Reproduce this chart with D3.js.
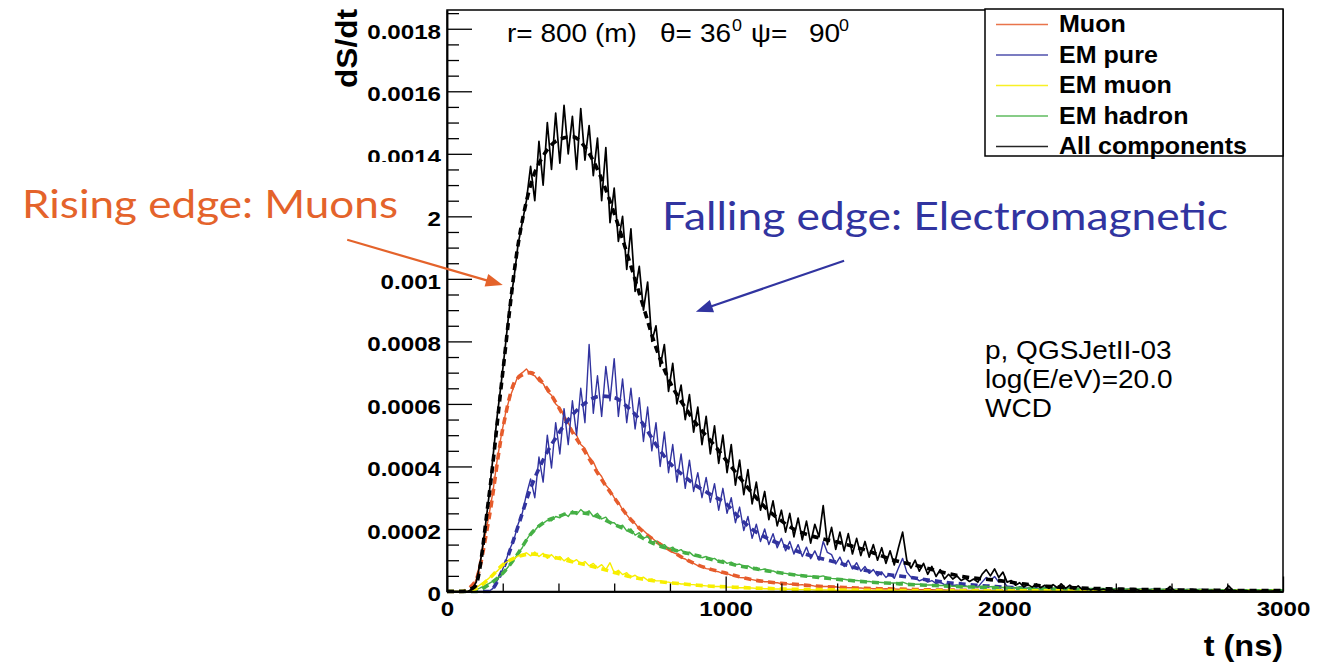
<!DOCTYPE html>
<html>
<head>
<meta charset="utf-8">
<script src="https://cdn.jsdelivr.net/npm/d3@7"></script>
<style>
  html, body { margin: 0; padding: 0; background: #fff; }
  svg { display: block; }
</style>
</head>
<body>
<svg id="chart" width="1337" height="663"></svg>
<script>
// dS/dt values are stored in units of 1e-6 per ns.
const UNIT = 1e-6;

// Simulated trace histograms: 15 ns bins starting at t = 0.
const BIN_NS = 15;
const muonTrace = [
  0,0,0,0,0,0,5,40,100,170,
  240,320,420,500,570,620,655,690,700,712,
  695,690,672,665,640,628,600,588,560,540,
  512,500,470,458,430,415,385,368,340,325,
  300,285,262,245,228,218,200,195,182,172,
  160,155,142,137,125,120,108,104,94,90,
  83,80,73,71,65,63,58,57,52,50,
  45,44,40,38,35,34,31,31,28,28,
  25,26,23,24,21,22,19,20,17,18,
  16,16,14,15,13,13,12,12,11,11,
  10,10,9,9,8,9,8,8,7,8,
  7,6,7,6,6,5,6,5,5,5,
  4,4,4,3,4,3,3,3,3,3,
  3,3,3,2,3,2,2,2,2,2,
  2,2,2,2,2,2,2,1,2,1,
  1,2,1,1,1,1,1,1,1,1,
  1,1,1,1,1,1,1,1,1,1,
  1,1,1,1,1,1,1,1,1,1,
  1,1,1,1,1,1,1,1,1,1,
  1,1,1,1,1,1,1,1,1,1
];
const emPureTrace = [
  0,0,0,0,0,0,0,0,0,0,
  0,10,35,60,95,135,165,215,250,310,
  360,300,430,350,500,395,540,440,585,470,
  610,500,650,540,790,570,690,560,720,610,
  745,560,680,540,650,520,620,480,590,450,
  540,400,510,380,470,350,440,330,420,320,
  380,300,365,285,345,260,330,250,300,220,
  270,195,240,170,215,160,200,150,185,140,
  170,130,160,120,150,112,142,105,130,100,
  160,125,118,88,110,80,100,72,92,65,
  80,58,70,50,62,45,55,42,75,106,
  62,46,45,34,40,30,35,25,30,22,
  24,19,21,17,18,15,16,14,30,45,
  35,48,30,35,16,14,12,13,10,11,
  9,10,8,9,7,8,6,7,6,6,
  5,6,5,5,4,5,4,4,4,3,
  4,3,3,4,3,3,2,3,3,2,
  3,2,2,3,2,2,2,3,2,2,
  2,2,1,2,2,2,1,2,2,1,
  2,1,1,2,1,1,1,1,1,1
];
const emMuonTrace = [
  0,0,0,0,0,0,3,12,22,32,
  42,55,65,80,92,100,104,114,116,124,
  114,126,112,122,106,118,104,112,98,108,
  94,102,88,96,82,90,76,86,70,92,
  60,68,54,60,46,52,42,46,36,40,
  34,34,30,30,27,27,24,24,22,22,
  20,19,18,17,16,16,15,14,14,13,
  12,12,11,11,10,10,9,9,8,8,
  8,7,7,7,6,6,6,6,5,5,
  5,5,5,4,4,4,4,4,4,3,
  3,3,3,3,3,3,3,3,3,3,
  2,2,2,2,2,2,2,2,2,2,
  2,2,2,2,2,2,2,2,2,2,
  2,2,1,2,1,2,1,1,2,1,
  1,1,1,1,1,1,1,1,1,1,
  1,1,1,1,1,1,1,1,1,1,
  1,1,1,1,1,1,1,1,1,1,
  1,1,1,1,1,1,1,1,1,1,
  1,1,1,1,1,1,1,1,1,1,
  1,1,1,1,1,1,1,1,1,1
];
const emHadronTrace = [
  0,0,0,0,0,0,0,5,12,18,
  25,33,42,52,68,85,100,122,140,165,
  185,195,212,218,228,226,240,236,250,240,
  258,246,262,250,258,240,250,232,238,220,
  220,206,212,194,200,180,188,170,176,158,
  162,146,150,136,142,128,134,120,126,114,
  118,108,112,102,106,96,100,90,94,85,
  88,80,82,74,77,69,72,65,66,60,
  59,58,55,55,52,52,49,49,46,47,
  50,44,42,41,39,39,37,36,35,34,
  32,32,30,30,29,28,27,27,28,30,
  25,24,23,23,22,21,21,20,19,19,
  18,17,17,16,16,15,15,14,16,17,
  15,16,14,13,12,12,11,11,10,10,
  9,9,9,8,8,8,7,7,7,7,
  6,6,6,6,6,5,5,5,5,5,
  5,4,4,4,4,4,4,4,3,3,
  3,3,3,3,3,3,3,3,3,2,
  2,2,2,2,2,2,2,2,2,2,
  2,2,2,2,2,2,2,2,2,2
];
const allTrace = [
  0,0,0,0,0,0,8,30,95,190,
  300,430,560,670,790,915,1000,1110,1180,1250,
  1360,1250,1440,1300,1500,1350,1530,1370,1555,1400,
  1520,1350,1545,1380,1490,1330,1450,1250,1420,1180,
  1290,1120,1200,1030,1160,960,1040,900,990,800,
  850,720,790,640,730,600,660,550,630,510,
  590,470,560,440,530,410,500,380,470,340,
  420,310,390,280,350,260,320,230,290,210,
  260,190,250,175,235,165,225,155,215,175,
  275,150,205,135,190,130,185,120,170,115,
  160,110,150,100,140,90,130,85,140,190,
  100,75,100,65,90,55,80,48,70,40,
  55,40,50,35,42,32,40,30,55,70,
  50,72,45,62,30,35,20,28,15,22,
  14,24,12,20,10,22,12,24,10,20,
  8,18,6,12,5,10,4,8,3,6,
  3,5,2,4,1,6,2,3,4,2,
  3,2,4,16,3,2,1,3,2,5,
  1,3,2,4,1,2,3,18,4,2,
  1,3,1,2,1,2,1,1,2,1
];

// Fitted parametrisations, sampled every 50 ns from 0 to 3000 ns.
const FIT_STEP_NS = 50;
const muonFit = [
  0,0,30,230,520,680,700,660,590,510,
  440,365,300,240,195,160,133,106,85,70,
  59,47,37,31,26,23,19,16,14,12,
  10,9,8,7,6,5,5,4,4,3,
  3,3,2,2,2,2,2,2,2,2,
  1,1,1,1,1,1,1,1,1,1,1
];
const emPureFit = [
  0,0,0,0,70,195,330,430,505,565,
  605,625,620,588,540,470,410,370,335,308,
  282,235,196,170,150,131,116,104,93,80,
  68,59,52,47,40,34,28,24,20,17,
  14,12,10,9,8,7,6,5,5,4,
  4,3,3,3,3,2,2,2,2,2,2
];
const emMuonFit = [
  0,0,8,40,85,110,120,115,106,95,
  85,74,61,49,40,33,28,24,20,17,
  15,13,11,10,8,7,6,6,5,5,
  4,4,3,3,3,2,2,2,2,2,
  2,2,2,2,2,2,2,2,2,2,
  1,1,1,1,1,1,1,1,1,1,1
];
const emHadronFit = [
  0,0,0,22,58,115,183,222,240,252,
  250,236,214,196,172,150,136,125,114,102,
  92,82,74,66,59,53,48,44,39,35,
  31,28,26,23,21,19,17,15,14,12,
  11,10,9,8,7,7,6,6,5,5,
  4,4,3,3,3,3,2,2,2,2,2
];
const allFit = [
  0,0,15,300,700,1080,1300,1400,1445,1455,
  1415,1330,1210,1070,925,780,670,595,530,478,
  422,365,310,262,226,197,180,168,158,146,
  133,117,101,90,80,68,57,48,42,38,
  33,26,21,17,14,12,10,9,8,7,
  6,6,5,5,4,4,4,3,3,3,3
];

// Components, legend names and colours.
const seriesNames  = ["Muon", "EM pure", "EM muon", "EM hadron", "All components"];
const seriesColors = ["#e65c2c", "#31339f", "#f7ee00", "#45b045", "#000000"];
const traces = [muonTrace, emPureTrace, emMuonTrace, emHadronTrace, allTrace];
const fits   = [muonFit, emPureFit, emMuonFit, emHadronFit, allFit];
// drawing order: muon, EM pure, EM hadron, EM muon, all components on top
const drawOrder = [0, 1, 3, 2, 4];

// Axes
const xDomain = [0, 3000];
const yDomain = [0, 0.00186];
const xTickValues = [0, 1000, 2000, 3000];
const xTickLabels = ["0", "1000", "2000", "3000"];
const yTickValues = [0, 0.0002, 0.0004, 0.0006, 0.0008, 0.001, 0.0012, 0.0014, 0.0016, 0.0018];
const yTickLabels = ["0", "0.0002", "0.0004", "0.0006", "0.0008", "0.001", "0.0012", "0.0014", "0.0016", "0.0018"];

const ROOT_FONT = "'Liberation Sans', Arial, Helvetica, sans-serif";
const SLIDE_FONT = "Lato, 'Open Sans', sans-serif";
const STRETCH = 1.12;      // ROOT text is slightly wide
const TICK_STRETCH = 1.15;

const svg = d3.select("#chart");

const plotLeft = 447, plotRight = 1283, plotTop = 10, plotBottom = 591.5;
const x = d3.scaleLinear().domain(xDomain).range([plotLeft, plotRight]);
const y = d3.scaleLinear().domain(yDomain).range([plotBottom, plotTop]);

function label(parent, px, py, str, o) {
  const g = parent.append("g")
    .attr("transform", `translate(${px},${py}) scale(${o.sx || 1},1)`);
  return g.append("text")
    .attr("text-anchor", o.anchor || "start")
    .style("font-family", o.family || ROOT_FONT)
    .style("font-size", o.size + "px")
    .style("font-weight", o.weight || "normal")
    .attr("fill", o.color || "#000")
    .text(str);
}

// ---- curves ----
svg.append("defs").append("clipPath").attr("id", "plot-clip")
  .append("rect").attr("x", plotLeft).attr("y", plotTop - 2)
  .attr("width", plotRight - plotLeft).attr("height", plotBottom - plotTop + 4);

const curves = svg.append("g").attr("clip-path", "url(#plot-clip)");

const traceLine = d3.line()
  .x((d, i) => x(i * BIN_NS))
  .y(d => y(d * UNIT));
const fitLine = d3.line()
  .x((d, i) => x(i * FIT_STEP_NS))
  .y(d => y(d * UNIT))
  .curve(d3.curveMonotoneX);

drawOrder.forEach(k => {
  curves.append("path")
    .datum(traces[k])
    .attr("d", traceLine)
    .attr("fill", "none")
    .attr("stroke", seriesColors[k])
    .attr("stroke-width", k === 4 ? 1.7 : 1.4)
    .attr("stroke-linejoin", "round");
  curves.append("path")
    .datum(fits[k])
    .attr("d", fitLine)
    .attr("fill", "none")
    .attr("stroke", seriesColors[k])
    .attr("stroke-width", 3.6)
    .attr("stroke-dasharray", "7,5");
});

// ---- frame ----
svg.append("rect")
  .attr("x", plotLeft).attr("y", plotTop)
  .attr("width", plotRight - plotLeft).attr("height", plotBottom - plotTop)
  .attr("fill", "none").attr("stroke", "#000").attr("stroke-width", 1.5);

// ---- y axis ----
const yMinor = d3.range(0, 38).filter(k => k % 4 !== 0).map(k => k * 0.00005);
const gyMinor = svg.append("g").attr("transform", `translate(${plotLeft},0)`)
  .call(d3.axisLeft(y).tickValues(yMinor).tickFormat("").tickSizeInner(-12).tickSizeOuter(0));
const gy = svg.append("g").attr("transform", `translate(${plotLeft},0)`)
  .call(d3.axisLeft(y).tickValues(yTickValues).tickFormat((d, i) => yTickLabels[i])
    .tickSizeInner(-25).tickSizeOuter(0).tickPadding(6));
gy.selectAll("text")
  .attr("x", -6 / TICK_STRETCH)
  .attr("dy", "0.45em")
  .attr("transform", `scale(${TICK_STRETCH},1)`)
  .style("font-family", ROOT_FONT).style("font-size", "21px").style("font-weight", "bold")
  .attr("fill", "#000");

// ---- x axis ----
const xMinor = d3.range(0, 16).filter(k => k % 5 !== 0).map(k => k * 200);
const gxMinor = svg.append("g").attr("transform", `translate(0,${plotBottom})`)
  .call(d3.axisBottom(x).tickValues(xMinor).tickFormat("").tickSizeInner(-8).tickSizeOuter(0));
const gx = svg.append("g").attr("transform", `translate(0,${plotBottom})`)
  .call(d3.axisBottom(x).tickValues(xTickValues).tickFormat((d, i) => xTickLabels[i])
    .tickSizeInner(-15).tickSizeOuter(0).tickPadding(10));
gx.selectAll("text")
  .attr("transform", `scale(${TICK_STRETCH},1)`)
  .style("font-family", ROOT_FONT).style("font-size", "21px").style("font-weight", "bold")
  .attr("fill", "#000");

[gy, gyMinor, gx, gxMinor].forEach(g => {
  g.select(".domain").attr("stroke", "#000").attr("stroke-width", 1.5);
  g.selectAll(".tick line").attr("stroke", "#000").attr("stroke-width", 1.3);
});

// ---- axis titles ----
svg.append("g").attr("transform", `translate(357,9) rotate(-90)`)
  .append("text").attr("text-anchor", "end")
  .attr("textLength", 79).attr("lengthAdjust", "spacingAndGlyphs")
  .style("font-family", ROOT_FONT).style("font-size", "29px").style("font-weight", "bold")
  .text("dS/dt");
label(svg, 1283, 656, "t (ns)", { size: 29, weight: "bold", anchor: "end", sx: STRETCH });

// ---- header ----
label(svg, 507, 42, "r= 800 (m)", { size: 25, sx: STRETCH });
label(svg, 660, 42, "θ=", { size: 25, sx: STRETCH });
label(svg, 700, 42, "36", { size: 25, sx: STRETCH });
label(svg, 732, 31, "0", { size: 16, sx: STRETCH });
label(svg, 751, 42, "ψ=", { size: 25, sx: STRETCH });
label(svg, 809, 42, "90", { size: 25, sx: STRETCH });
label(svg, 839, 31, "0", { size: 16, sx: STRETCH });

// ---- shower info ----
const infoLines = ["p, QGSJetII-03", "log(E/eV)=20.0", "WCD"];
infoLines.forEach((s, i) => label(svg, 985, 359 + i * 29, s, { size: 25, sx: STRETCH }));

// ---- legend ----
const legend = svg.append("g");
legend.append("rect")
  .attr("x", 985).attr("y", 9).attr("width", plotRight - 985).attr("height", 147)
  .attr("fill", "#fff").attr("stroke", "#000").attr("stroke-width", 1.5);
seriesNames.forEach((name, i) => {
  const ly = 24.5 + i * 30.5;
  legend.append("line")
    .attr("x1", 996).attr("x2", 1048).attr("y1", ly).attr("y2", ly)
    .attr("stroke", seriesColors[i]).attr("stroke-width", 1.6).attr("opacity", 0.85);
  label(legend, 1059, ly + 7.5, name, { size: 23, weight: "bold", sx: 1.09 });
});

// ---- slide annotations ----
const notes = svg.append("g");
notes.append("rect").attr("x", 0).attr("y", 162).attr("width", 444).attr("height", 46).attr("fill", "#fff");
notes.append("rect").attr("x", 0).attr("y", 207).attr("width", 427).attr("height", 38).attr("fill", "#fff");

const ORANGE = "#e4632b", BLUE = "#3134a0";
notes.append("text").attr("x", 22).attr("y", 218)
  .attr("textLength", 376).attr("lengthAdjust", "spacingAndGlyphs")
  .style("font-family", SLIDE_FONT).style("font-size", "38px").attr("fill", ORANGE)
  .text("Rising edge: Muons");
notes.append("text").attr("x", 662).attr("y", 230)
  .attr("textLength", 566).attr("lengthAdjust", "spacingAndGlyphs")
  .style("font-family", SLIDE_FONT).style("font-size", "38px").attr("fill", BLUE)
  .text("Falling edge: Electromagnetic");

// arrows, anchored in (t, dS/dt) space
const arrows = [
  { from: [-358, 0.001125], to: [200, 0.00098], color: ORANGE },
  { from: [1425, 0.001058], to: [893, 0.000895], color: BLUE }
];
arrows.forEach(a => {
  const sx = x(a.from[0]), sy = y(a.from[1]);
  const tx = x(a.to[0]), ty = y(a.to[1]);
  const dx = tx - sx, dy = ty - sy, len = Math.hypot(dx, dy);
  const ux = dx / len, uy = dy / len, nx = -uy, ny = ux;
  const L = 17, w = 6.5;
  const bx = tx - ux * L, by = ty - uy * L;
  notes.append("line")
    .attr("x1", sx).attr("y1", sy).attr("x2", bx + ux * 2).attr("y2", by + uy * 2)
    .attr("stroke", a.color).attr("stroke-width", 2.2);
  notes.append("path")
    .attr("d", `M${tx},${ty}L${bx + nx * w},${by + ny * w}L${bx - nx * w},${by - ny * w}Z`)
    .attr("fill", a.color);
});
</script>
</body>
</html>
